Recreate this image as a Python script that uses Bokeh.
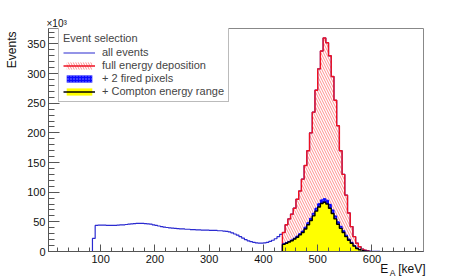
from bokeh.plotting import figure
from bokeh.models import Legend, LegendItem, Title, SingleIntervalTicker, Range1d
from bokeh.embed import file_html
from bokeh.resources import INLINE

# ---- data (counts in units of 10^3) ----
bin_width = 5  # keV
all_start = 0
all_events = (
    [0] * 17 +
    [22, 44, 44.5, 44.5, 44.5, 44, 44, 44, 44, 44.5, 45, 45, 45.5, 46, 46.5, 47, 47.5, 47.5, 47.5,
     47, 46.5, 46, 45, 44, 43, 42, 41, 40.5, 40, 39.5, 39, 38.5, 38, 38, 37.5, 37.5, 37, 37, 36.5,
     36.5, 36, 36, 36, 35.5, 35.5, 35.5, 35, 35, 34.5, 34, 33, 31.5, 29.5, 27.5, 25, 22.5, 20, 18,
     16.5, 15.5, 14.5, 14, 14, 14.5, 15.5, 17, 19, 21.5, 25, 29] +
    [32, 45, 55, 63, 73, 88, 102, 122, 145, 170, 200, 235, 272, 308, 338, 360,
     352, 330, 295, 255, 212, 170, 130, 95, 65, 42, 25, 14, 8, 4, 2, 1] +
    [0.5, 0.3, 0.2, 0.1] + [0] * 17
)
peak_start = 435
full_energy = [32, 45, 55, 63, 73, 88, 102, 122, 145, 170, 200, 235, 272, 308, 338, 360,
               352, 330, 295, 255, 212, 170, 130, 95, 65, 42, 25, 14, 8, 4, 2, 1]
two_pixels = [13, 15, 17, 19.5, 22.5, 26, 30, 34.5, 41, 48.5, 56, 64.5, 73, 80.5, 87, 89,
              86.5, 79.5, 70, 60, 50, 42.5, 35, 27.5, 21, 15.5, 10, 6, 3.5, 1.8, 0.8, 0.3]
compton = [12, 14, 16, 18, 21, 24, 28, 32, 38, 45, 52, 60, 68, 75, 81, 83,
           80, 73, 64, 55, 46, 39, 32, 25, 19, 14, 9, 5, 3, 1.5, 0.6, 0.2]

labels = ["all events", "full energy deposition", "+ 2 fired pixels", "+ Compton energy range"]

FONT = "Liberation Sans"
TXT = "#111111"

p = figure(frame_width=375, frame_height=223,
           min_border_left=47, min_border_right=47, min_border_top=28, min_border_bottom=29,
           x_range=Range1d(4, 695), y_range=Range1d(0, 376),
           output_backend="svg", toolbar_location=None)
p.xgrid.visible = False
p.ygrid.visible = False
p.outline_line_color = "#888888"
p.outline_line_width = 1
p.background_fill_color = "white"
p.border_fill_color = "white"


def edges(start, n):
    return [start + bin_width * i for i in range(n + 1)]


def outline(start, vals):
    e = edges(start, len(vals))
    return [e[0]] + e, [0] + list(vals) + [0]


# all events line
ea = edges(all_start, len(all_events))
r_all = p.step(ea, list(all_events) + [all_events[-1]], mode="after",
               line_color="#2a2ad0", line_width=1.2)

# full energy deposition: red hatch
ep = edges(peak_start, len(full_energy))
r_red_fill = p.varea_step(x=ep, y1=[0] * len(ep), y2=full_energy + [0], step_mode="after",
                          fill_alpha=0, hatch_pattern="\\", hatch_color="#ff3333",
                          hatch_alpha=0.55, hatch_scale=5, hatch_weight=1)
ox, oy = outline(peak_start, full_energy)
r_red_line = p.step(ox, oy, mode="after", line_color="#ee1122", line_width=1.4)

# + 2 fired pixels: blue
r_blue = p.varea_step(x=ep, y1=[0] * len(ep), y2=two_pixels + [0], step_mode="after",
                      fill_color="#0a0aff", fill_alpha=1, hatch_pattern=".",
                      hatch_color="#9090ff", hatch_scale=3, hatch_weight=1)
bx, by = outline(peak_start, two_pixels)
r_blue_line = p.step(bx, by, mode="after", line_color="#0000ff", line_width=1)

# + Compton energy range: yellow
r_yel = p.varea_step(x=ep, y1=[0] * len(ep), y2=compton + [0], step_mode="after",
                     fill_color="#ffff00", fill_alpha=1)
cx, cy = outline(peak_start, compton)
r_yel_line = p.step(cx, cy, mode="after", line_color="black", line_width=1.4)

# axes
for ax in (p.xaxis[0], p.yaxis[0]):
    ax.axis_line_color = "#555555"
    ax.major_tick_line_color = "#555555"
    ax.minor_tick_line_color = "#555555"
    ax.major_tick_out = 0
    ax.minor_tick_out = 0
    ax.major_label_text_font = FONT
    ax.major_label_text_font_size = "11px"
    ax.major_label_text_color = TXT
    ax.major_label_standoff = 3

p.xaxis.ticker = SingleIntervalTicker(interval=100, num_minor_ticks=5)
p.yaxis.ticker = SingleIntervalTicker(interval=50, num_minor_ticks=5)
p.xaxis.major_tick_in = 7
p.xaxis.minor_tick_in = 4
p.yaxis.major_tick_in = 11
p.yaxis.minor_tick_in = 6


def title(text, size, align, valign, offset, standoff):
    return Title(text=text, align=align, vertical_align=valign, offset=offset, standoff=standoff,
                 text_font=FONT, text_font_size=size, text_font_style="normal", text_color=TXT)


NB = "\u00a0"
# axis titles in side panels
p.add_layout(title("Events", "12px", "right", "top", 3, 8), "left")
p.add_layout(title("×10³", "10px", "left", "bottom", -2, 0), "above")
p.add_layout(title("E" + NB * 3 + "[keV]", "12px", "right", "top", -2, -8), "below")
p.add_layout(title("A", "8.5px", "right", "top", 28, -11), "below")

legend = Legend(items=[
    LegendItem(label=labels[0], renderers=[r_all]),
    LegendItem(label=labels[1], renderers=[r_red_fill, r_red_line]),
    LegendItem(label=labels[2], renderers=[r_blue]),
    LegendItem(label=labels[3], renderers=[r_yel, r_yel_line]),
], title="Event selection", location=(10, 149))
legend.title_text_font = FONT
legend.title_text_font_size = "11px"
legend.title_text_font_style = "normal"
legend.title_standoff = 2
legend.label_text_font = FONT
legend.label_text_font_size = "11px"
legend.label_standoff = 7
legend.glyph_width = 32
legend.glyph_height = 9
legend.label_height = 11
legend.spacing = 1
legend.padding = 4
legend.margin = 0
legend.border_line_color = "#777777"
legend.border_line_width = 1
legend.background_fill_alpha = 1
p.add_layout(legend)

open("out.html", "w").write(file_html(p, INLINE))
